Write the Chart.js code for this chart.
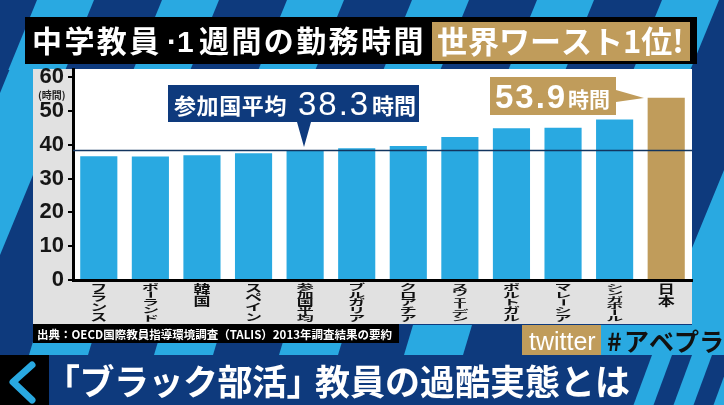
<!DOCTYPE html>
<html>
<head>
  <meta charset="utf-8">
  <title>中学教員・1週間の勤務時間</title>
  <script src="https://cdn.jsdelivr.net/npm/chart.js"></script>
  <style>
    html, body { margin: 0; padding: 0; background: #0e3a7d; }
    canvas { display: block; }
  </style>
</head>
<body>
  <canvas id="myChart" width="724" height="405"></canvas>

  <script>
    const countries = ['フランス', 'ポーランド', '韓国', 'スペイン', '参加国平均', 'ブルガリア', 'クロアチア', 'スウェーデン', 'ポルトガル', 'マレーシア', 'シンガポール', '日本'];
    const hours = [36.6, 36.5, 36.9, 37.5, 38.3, 39.0, 39.6, 42.3, 44.9, 45.0, 47.5, 53.9];
    const averageHours = 38.3;
    const yTicks = [0, 10, 20, 30, 40, 50, 60];

    const BLUE = '#29a9e1';
    const NAVY = '#0e3a7d';
    const GOLD = '#c09c5b';
    const JP = '"Noto Sans CJK JP"';
    const LATIN = '"Liberation Sans"';

    function poly(ctx, color, pts) {
      ctx.fillStyle = color;
      ctx.beginPath();
      pts.forEach((p, i) => i ? ctx.lineTo(p[0], p[1]) : ctx.moveTo(p[0], p[1]));
      ctx.closePath();
      ctx.fill();
    }

    // slanted stripe, x0 is the left edge at y = y0
    function stripe(ctx, color, x0, w, y0, y1, slope) {
      const d = (y1 - y0) * slope;
      poly(ctx, color, [[x0, y0], [x0 + w, y0], [x0 + w - d, y1], [x0 - d, y1]]);
    }

    function text(ctx, str, x, y, font, color, spacing) {
      ctx.font = font;
      ctx.fillStyle = color;
      ctx.letterSpacing = (spacing || 0) + 'px';
      ctx.textAlign = 'left';
      ctx.textBaseline = 'alphabetic';
      ctx.fillText(str, x, y);
      ctx.letterSpacing = '0px';
    }

    // everything behind the chart
    const backdrop = {
      id: 'backdrop',
      beforeDraw(chart) {
        const ctx = chart.ctx;
        ctx.save();
        ctx.fillStyle = NAVY;
        ctx.fillRect(0, 0, 724, 405);
        for (let i = 0; i < 6; i++) stripe(ctx, BLUE, 37 + 125 * i, 57, 0, 70, 0.41);
        poly(ctx, BLUE, [[31, 17], [0, 93], [0, 255], [33, 175], [33, 17]]);
        poly(ctx, BLUE, [[724, 170], [692, 248], [692, 325], [601, 325], [601, 356], [724, 356]]);
        for (let i = 0; i < 4; i++) stripe(ctx, BLUE, 38 + 125 * i, 59, 325, 355, 0.3);
        ctx.fillStyle = '#000';
        ctx.fillRect(25, 17, 672, 47);
        ctx.fillStyle = '#e1e1e1';
        ctx.fillRect(33, 69, 659, 255);
        ctx.fillStyle = '#fff';
        ctx.fillRect(73, 69, 619, 211);
        ctx.restore();
      }
    };

    // labels, callouts and banners drawn on top of the chart
    const overlay = {
      id: 'overlay',
      afterDraw(chart) {
        const ctx = chart.ctx;
        const xs = chart.scales.x;
        const ys = chart.scales.y;
        ctx.save();

        // average line
        const avgY = ys.getPixelForValue(averageHours);
        ctx.strokeStyle = '#12355f';
        ctx.lineWidth = 1.6;
        ctx.beginPath();
        ctx.moveTo(chart.chartArea.left, avgY);
        ctx.lineTo(chart.chartArea.right, avgY);
        ctx.stroke();

        // vertical country names, squeezed to the strip height like the original
        countries.forEach((name, i) => {
          const chars = Array.from(name);
          const h = chars.length === 2 ? 12.5 : 39 / chars.length;
          const cx = xs.getPixelForValue(i);
          ctx.font = '700 17px ' + JP;
          ctx.fillStyle = '#111';
          ctx.textAlign = 'center';
          ctx.textBaseline = 'middle';
          chars.forEach((c, j) => {
            ctx.save();
            ctx.translate(cx, 283 + j * h + h / 2);
            ctx.scale(1, h / 17);
            if (c === 'ー') ctx.rotate(Math.PI / 2);
            ctx.fillText(c, 0, 0);
            ctx.restore();
          });
        });

        text(ctx, '(時間)', 38, 99, '700 10px ' + JP, '#222');

        // average callout
        poly(ctx, NAVY, [[168, 85], [419, 85], [419, 122], [311, 122], [304, 147], [297, 122], [168, 122]]);
        text(ctx, '参加国平均', 174, 114, '700 22px ' + JP, '#fff', 0.6);
        text(ctx, averageHours.toFixed(1), 298, 115, '400 33px ' + LATIN, '#fff', 2);
        text(ctx, '時間', 372, 114, '700 22px ' + JP, '#fff');

        // Japan callout
        poly(ctx, GOLD, [[490, 77], [616, 77], [616, 90], [644, 98], [616, 102], [616, 115], [490, 115]]);
        text(ctx, hours[hours.length - 1].toFixed(1), 495, 108, '700 33px ' + LATIN, '#fff', 2);
        text(ctx, '時間', 568, 107, '700 21px ' + JP, '#fff');

        // headline
        text(ctx, '中学教員', 32, 52, '700 30px ' + JP, '#fff', 2.4);
        text(ctx, '·', 167, 52, '700 30px ' + LATIN, '#fff');
        text(ctx, '1', 177, 52, '700 30px ' + LATIN, '#fff');
        text(ctx, '週間の勤務時間', 199, 52, '700 30px ' + JP, '#fff', 2.4);
        ctx.fillStyle = GOLD;
        ctx.fillRect(432, 22, 258, 39);
        text(ctx, '世界ワースト1位!', 437, 53, '700 31px ' + JP, '#fff');

        // source strip
        ctx.fillStyle = '#000';
        ctx.fillRect(33, 324, 366, 19);
        text(ctx, '出典：OECD国際教員指導環境調査（TALIS）2013年調査結果の要約', 37, 339, '700 11.5px ' + JP, '#fff');

        // twitter tag
        ctx.fillStyle = GOLD;
        ctx.fillRect(522, 325, 79, 31);
        text(ctx, 'twitter', 529, 350, '400 25px ' + LATIN, '#fff');
        text(ctx, '#', 607, 351, '700 25px ' + JP, '#111');
        text(ctx, 'アベプラ', 624, 351, '700 25px ' + JP, '#111');

        // bottom banner
        ctx.fillStyle = NAVY;
        ctx.fillRect(0, 355, 724, 50);
        for (let i = 0; i < 4; i++) stripe(ctx, BLUE, 652 + 40 * i, 20, 355, 405, 0.37);
        ctx.fillStyle = '#000';
        ctx.fillRect(0, 355, 49, 50);
        ctx.strokeStyle = BLUE;
        ctx.lineWidth = 7;
        ctx.lineCap = 'round';
        ctx.lineJoin = 'round';
        ctx.beginPath();
        ctx.moveTo(32, 365);
        ctx.lineTo(13, 382);
        ctx.lineTo(32, 400);
        ctx.stroke();
        text(ctx, '「ブラック部活」', 45, 395, '700 35px ' + JP, '#fff', -0.5);
        text(ctx, '教員の過酷実態とは', 315, 395, '700 35px ' + JP, '#fff');

        ctx.restore();
      }
    };

    new Chart(document.getElementById('myChart').getContext('2d'), {
      type: 'bar',
      data: {
        labels: countries,
        datasets: [{
          data: hours,
          backgroundColor: hours.map((v, i) => i === hours.length - 1 ? GOLD : BLUE),
          borderWidth: 0,
          barPercentage: 0.72,
          categoryPercentage: 1
        }]
      },
      plugins: [backdrop, overlay],
      options: {
        responsive: false,
        animation: false,
        layout: { padding: { left: 0, top: 69, right: 32, bottom: 125 } },
        plugins: { legend: { display: false }, tooltip: { enabled: false } },
        scales: {
          x: {
            grid: { display: false },
            border: { color: '#000', width: 3 },
            ticks: { display: false },
            afterFit(scale) { scale.height = 0; }
          },
          y: {
            min: 0,
            max: 62.4,
            afterBuildTicks(scale) { scale.ticks = yTicks.map(v => ({ value: v })); },
            afterFit(scale) { scale.width = 73; },
            grid: { drawOnChartArea: false, color: '#000', lineWidth: 2, tickLength: 5 },
            border: { color: '#000', width: 3 },
            ticks: {
              color: '#161616',
              padding: 4,
              font: { family: LATIN.replace(/"/g, ''), weight: '700', size: 22 }
            }
          }
        }
      }
    });
  </script>
</body>
</html>
